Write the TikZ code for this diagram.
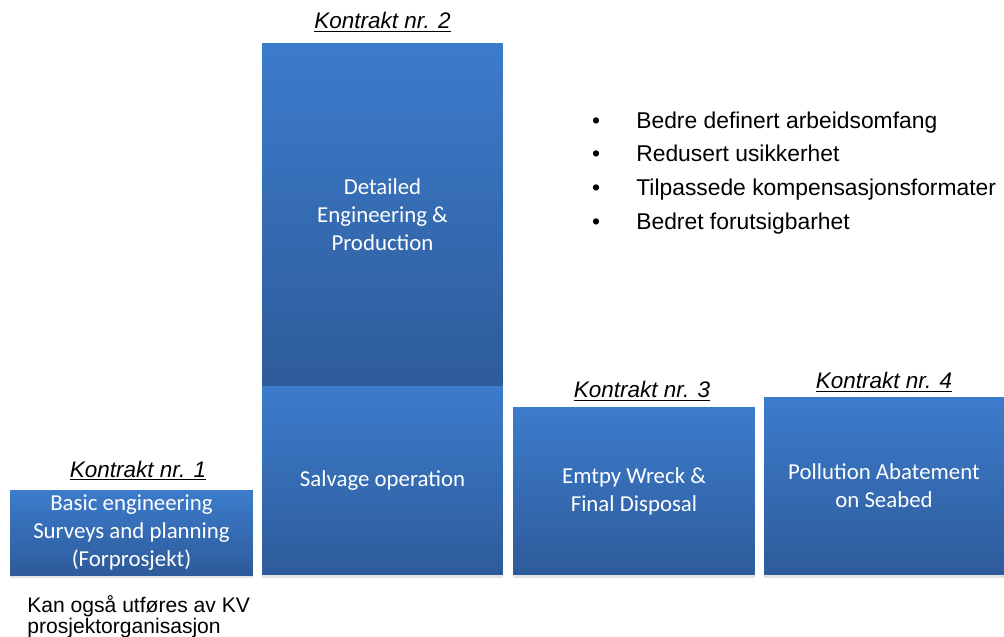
\documentclass[tikz,border=0pt]{standalone}
\usepackage{fontspec}
\setmainfont{Liberation Sans}
\newfontfamily\calibri{Carlito}
\usepackage{xcolor}
\usetikzlibrary{positioning,shadows}
\definecolor{blocktop}{RGB}{60,124,204}
\definecolor{blockbot}{RGB}{46,91,154}
\tikzset{
block/.style={rectangle, inner sep=0pt, outer sep=0pt, top color=blocktop, bottom color=blockbot,
  drop shadow={opacity=0.22, shadow xshift=0pt, shadow yshift=-0.6mm},
  text=white, align=center, font=\calibri\fontsize{13}{15.9}\selectfont},
contract/.style={inner sep=1pt, font=\fontsize{12.8}{14}\selectfont\itshape},
remark/.style={inner sep=0pt, align=left, font=\fontsize{12}{12.3}\selectfont},
gain/.style={inner sep=0pt, text height=9.4pt, text depth=0pt, font=\fontsize{13}{15}\selectfont}
}
\newcommand{\kontrakt}[1]{\underline{Kontrakt nr. #1}}

\begin{document}
\begin{tikzpicture}[x=0.02cm, y=-0.02cm]
\useasboundingbox (0,0) rectangle (1004,636);

% the contract blocks
\node[block, minimum width=4.86cm, minimum height=1.70cm] (basic) at (131.5,532.5) {Basic engineering\\Surveys and planning\\(Forprosjekt)};
\node[block, minimum width=4.82cm, minimum height=6.86cm] (detail) at (382.5,214.5) {Detailed\\Engineering \&\\Production};
\node[block, minimum width=4.82cm, minimum height=3.78cm] (salvage) at (382.5,480.5) {Salvage operation};
\node[block, minimum width=4.84cm, minimum height=3.36cm] (wreck) at (634,491) {Emtpy Wreck \&\\Final Disposal};
\node[block, minimum width=4.80cm, minimum height=3.56cm] (pollution) at (884,486) {Pollution Abatement\\on Seabed};

% headings
\node[contract, above=4pt of basic, xshift=0.13cm] (k1) {\kontrakt{1}};
\node[contract, above=5pt of detail] (k2) {\kontrakt{2}};
\node[contract, above=2pt of wreck, xshift=0.16cm] (k3) {\kontrakt{3}};
\node[contract, above=1.5pt of pollution] (k4) {\kontrakt{4}};

\node[remark, anchor=north west] (kv) at (27,595) {Kan også utføres av KV\\prosjektorganisasjon};

% gains
\foreach \txt [count=\i] in {Bedre definert arbeidsomfang, Redusert usikkerhet, Tilpassede kompensasjonsformater, Bedret forutsigbarhet}{
	\node[gain] (dot\i) at (596,{120+33.7*(\i-1)}) {\textbullet};
	\node[gain, anchor=west] (gain\i) at (636,{120+33.7*(\i-1)}) {\txt};
}
\end{tikzpicture}
\end{document}
